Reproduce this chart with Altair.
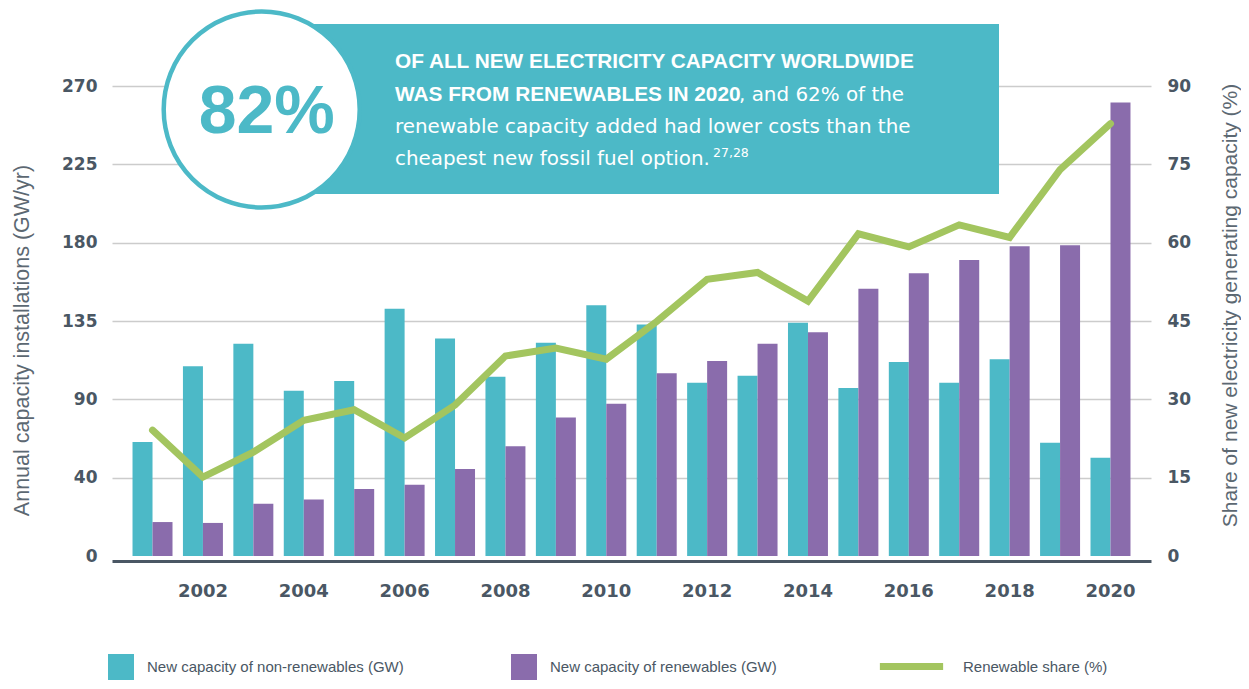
import altair as alt
import pandas as pd

# ---------------- data ----------------
years = list(range(2001, 2021))
non_renewables = [65.5, 109, 122, 95, 100.5, 142, 125, 103, 122.5, 144,
                  133, 99.5, 103.5, 134, 96.5, 111.5, 99.5, 113, 65, 56.5]
renewables = [19.5, 19, 30, 32.5, 38.5, 41, 50, 63, 79.5, 87.5,
              105, 112, 122, 128.5, 153.5, 162.5, 170, 178, 178.5, 260.5]
share = [24.1, 15.1, 19.9, 26.0, 28.0, 22.6, 28.9, 38.3, 39.8, 37.7,
         44.9, 53.0, 54.3, 48.8, 61.7, 59.2, 63.4, 61.0, 74.0, 82.8]

series_names = ["New capacity of non-renewables (GW)", "New capacity of renewables (GW)"]
line_name = "Renewable share (%)"

left_tick_values = [0, 45, 90, 135, 180, 225, 270]
left_tick_labels = ["0", "40", "90", "135", "180", "225", "270"]
right_tick_values = [0, 15, 30, 45, 60, 75, 90]
x_label_years = [y for y in years if y % 2 == 0]

big_number = "82%"
callout_bold_1 = "OF ALL NEW ELECTRICITY CAPACITY WORLDWIDE"
callout_bold_2 = "WAS FROM RENEWABLES IN 2020"
callout_reg_2 = ", and 62% of the"
callout_reg_3 = "renewable capacity added had lower costs than the"
callout_reg_4 = "cheapest new fossil fuel option."
callout_sup = "27,28"

# ---------------- styles ----------------
TEAL = "#4cb9c7"
PURPLE = "#8a6cac"
GREEN = "#a3c55f"
AXIS_TXT = "#4a5764"
TITLE_TXT = "#5c6872"
FONT = "Liberation Sans"
REG_FONT = "DejaVu Sans"
AX_FONT = "DejaVu Sans"

bars_df = pd.DataFrame({
    "year": years * 2,
    "series": [series_names[0]] * len(years) + [series_names[1]] * len(years),
    "value": non_renewables + renewables,
})
line_df = pd.DataFrame({"year": years, "share": share, "label": [line_name] * len(years)})

label_expr = " : ".join(
    [f"datum.value == {v} ? '{t}'" for v, t in zip(left_tick_values, left_tick_labels)]
) + " : datum.label"

x_enc = alt.X(
    "year:O",
    scale=alt.Scale(paddingInner=0.207, paddingOuter=0.407),
    axis=alt.Axis(
        title=None, values=x_label_years, labelAngle=0, ticks=False,
        domainColor=AXIS_TXT, domainWidth=3, offset=5, labelPadding=21,
        labelFont=AX_FONT, labelFontSize=18, labelFontWeight="bold", labelColor=AXIS_TXT,
        grid=False,
    ),
)

bars = alt.Chart(bars_df).mark_bar(opacity=1).encode(
    x=x_enc,
    xOffset=alt.XOffset("series:N", sort=series_names),
    y=alt.Y(
        "value:Q",
        scale=alt.Scale(domain=[0, 270], nice=False),
        axis=alt.Axis(
            title="Annual capacity installations (GW/yr)",
            values=left_tick_values, labelExpr=label_expr,
            orient="left", domain=False, ticks=False, labelPadding=15,
            labelFont=AX_FONT, labelFontSize=17, labelFontWeight="bold", labelColor=AXIS_TXT,
            grid=True, gridColor="#cccccc", gridWidth=1.5,
            gridOpacity=alt.condition("datum.value == 0", alt.value(0), alt.value(1)),
            titleFont=FONT, titleFontSize=21.5, titleFontWeight="normal", titleColor=TITLE_TXT,
            titleAngle=270, titleX=-90, titleY=254, titleAlign="center", titleBaseline="middle",
        ),
    ),
    color=alt.Color(
        "series:N",
        scale=alt.Scale(domain=series_names, range=[TEAL, PURPLE]),
        legend=alt.Legend(
            title=None, orient="none", legendX=-4, legendY=568, direction="horizontal",
            symbolType="square", symbolSize=676, symbolStrokeWidth=0, symbolOpacity=1,
            labelFont=FONT, labelFontSize=15, labelColor=AXIS_TXT, labelOffset=13,
            columnPadding=107, padding=0, labelLimit=400,
        ),
    ),
)

line = alt.Chart(line_df).mark_line(strokeWidth=7, strokeCap="round", strokeJoin="miter").encode(
    x=alt.X("year:O"),
    y=alt.Y(
        "share:Q",
        scale=alt.Scale(domain=[0, 90], nice=False),
        axis=alt.Axis(
            title="Share of new electricity generating capacity (%)",
            values=right_tick_values, orient="right", domain=False, ticks=False,
            labelPadding=16, grid=False,
            labelFont=AX_FONT, labelFontSize=17, labelFontWeight="bold", labelColor=AXIS_TXT,
            titleFont=FONT, titleFontSize=21, titleFontWeight="normal", titleColor=TITLE_TXT,
            titleAngle=270, titleX=79, titleY=219, titleAlign="center", titleBaseline="middle",
        ),
    ),
    stroke=alt.Stroke(
        "label:N",
        scale=alt.Scale(domain=[line_name], range=[GREEN]),
        legend=alt.Legend(
            title=None, orient="none", legendX=764, legendY=545, direction="horizontal",
            symbolType="stroke", symbolSize=4000, symbolStrokeWidth=7,
            labelFont=FONT, labelFontSize=15, labelColor=AXIS_TXT, labelOffset=16,
            padding=0, labelLimit=300,
        ),
    ),
)

one = pd.DataFrame({"k": [0]})

box = alt.Chart(one).mark_rect(color=TEAL, opacity=1).encode(
    x=alt.value(150), x2=alt.value(887), y=alt.value(-62), y2=alt.value(108)
)
circle = alt.Chart(one).mark_point(
    shape="circle", size=38416, fill="white", fillOpacity=1,
    stroke=TEAL, strokeWidth=4.5, strokeOpacity=1, opacity=1,
).encode(x=alt.value(149.7), y=alt.value(23.5))


def txt(s, x, y, size, weight="normal", color="white", align="left", font=FONT):
    return alt.Chart(pd.DataFrame({"t": [s]})).mark_text(
        align=align, baseline="alphabetic", font=font, fontSize=size,
        fontWeight=weight, color=color,
    ).encode(text="t:N", x=alt.value(x), y=alt.value(y))


texts = [
    txt(big_number, 154.7, 47.3, 68, weight="bold", color=TEAL, align="center"),
    txt(callout_bold_1, 283, -17.7, 20.8, weight="bold"),
    txt(callout_bold_2, 283, 15, 20.8, weight="bold"),
    txt(callout_reg_2, 627, 15, 19.9, font=REG_FONT),
    txt(callout_reg_3, 283, 47.3, 19.9, font=REG_FONT),
    txt(callout_reg_4, 283, 79, 19.9, font=REG_FONT),
    txt(callout_sup, 601, 71, 12.5, font=REG_FONT),
]

chart = alt.layer(bars, line, box, circle, *texts).resolve_scale(
    y="independent", color="independent", stroke="independent"
).properties(
    width=1039, height=470,
    autosize=alt.AutoSizeParams(type="none"),
    padding={"left": 104, "top": 78, "right": 90, "bottom": 125},
    background="white",
).configure_view(stroke=None)

chart.save("out.html", embed_options={"renderer": "svg", "actions": False})
